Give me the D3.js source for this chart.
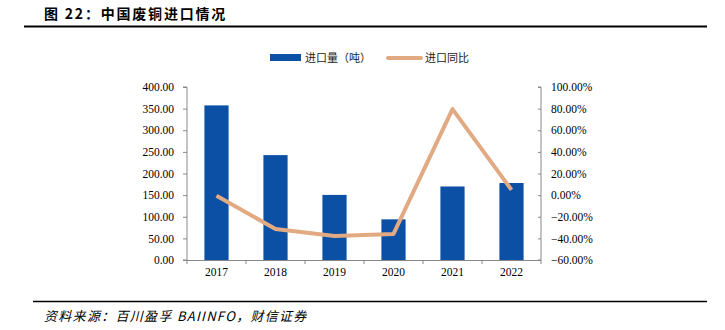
<!DOCTYPE html>
<html><head><meta charset="utf-8">
<script src="https://cdn.jsdelivr.net/npm/d3@7"></script>
<style>
body{margin:0;background:#fff;}
svg{display:block;}
</style></head>
<body>
<svg id="c" width="725" height="330"></svg>
<script>
const categories = ["2017","2018","2019","2020","2021","2022"];
const volume = [357.5, 242.5, 150.5, 94, 170, 178];
const yoy = [-0.5, -31.3, -37.8, -35.9, 79.5, 4.8];
const leftTicks = [0,50,100,150,200,250,300,350,400];
const rightTicks = [-60,-40,-20,0,20,40,60,80,100];
const seriesNames = ["进口量（吨）","进口同比"];
const titleText = "图 22：中国废铜进口情况";
const sourceText = "资料来源：百川盈孚 BAIINFO，财信证券";

const svg = d3.select("#c");
const barColor = "#0B50A5", lineColor = "#E2AA83";
const serif = "'Liberation Serif','Times New Roman',serif";
const cjk = "'Noto Sans CJK SC',sans-serif";

const L = 187, R = 541, T = 87, B = 260;

// title & rules
svg.append("text").attr("x",44).attr("y",19).text(titleText)
  .attr("font-family",cjk).attr("font-weight","bold").attr("font-size",14)
  .attr("letter-spacing",1.8).attr("fill","#000");
svg.append("line").attr("x1",24).attr("x2",707).attr("y1",26.5).attr("y2",26.5).attr("stroke","#000").attr("stroke-width",2);
svg.append("line").attr("x1",33).attr("x2",707).attr("y1",301.5).attr("y2",301.5).attr("stroke","#000").attr("stroke-width",1.5);
svg.append("text").attr("x",44).attr("y",321).text(sourceText)
  .attr("font-family",cjk).attr("font-style","italic").attr("font-size",13)
  .attr("letter-spacing",1.3).attr("fill","#000");

const x = d3.scaleBand().domain(categories).range([L,R]).paddingInner(0.59).paddingOuter(0.295);
const xb = d3.scaleBand().domain(categories).range([L,R]);
const yL = d3.scaleLinear().domain([0,400]).range([B,T]);
const yR = d3.scaleLinear().domain([-60,100]).range([B,T]);

// bars
svg.append("g").selectAll("rect").data(volume).join("rect")
  .attr("x",(d,i)=>x(categories[i])).attr("width",x.bandwidth())
  .attr("y",d=>yL(d)).attr("height",d=>B-yL(d)).attr("fill",barColor);

// line
const line = d3.line().x((d,i)=>xb(categories[i])+xb.bandwidth()/2).y(d=>yR(d));
svg.append("path").datum(yoy).attr("d",line).attr("fill","none")
  .attr("stroke",lineColor).attr("stroke-width",4).attr("stroke-linejoin","round");

// axes
const axisColor = "#888";
const gl = svg.append("g").attr("transform",`translate(${L},0)`)
  .call(d3.axisLeft(yL).tickValues(leftTicks).tickFormat(d3.format(".2f")).tickSize(4).tickPadding(9));
const gr = svg.append("g").attr("transform",`translate(${R},0)`)
  .call(d3.axisRight(yR).tickValues(rightTicks).tickFormat(d=>d3.format(".2f")(d)+"%").tickSize(-3).tickPadding(10));
const gx = svg.append("g").attr("transform",`translate(0,${B})`)
  .call(d3.axisBottom(xb).tickSize(0).tickPadding(8));
// boundary ticks on x axis
svg.append("g").selectAll("line").data(d3.range(categories.length+1)).join("line")
  .attr("x1",i=>L+i*xb.step()).attr("x2",i=>L+i*xb.step())
  .attr("y1",B).attr("y2",B+4).attr("stroke",axisColor);

[gl,gr,gx].forEach(g=>{
  g.selectAll(".domain").attr("stroke",axisColor);
  g.selectAll(".tick line").attr("stroke",axisColor);
  g.selectAll("text").attr("font-family",serif).attr("font-size",11.5).attr("fill","#000");
});
gl.select(".domain").attr("d",`M-4,${B}H0V${T}H-4`);
gr.select(".domain").attr("d",`M-3,${B}H0V${T}H-3`);
gx.select(".domain").attr("d",`M${L},0.5H${R}`);

// legend
const lg = svg.append("g");
lg.append("rect").attr("x",270).attr("y",54).attr("width",31).attr("height",7).attr("fill",barColor);
lg.append("text").attr("x",305).attr("y",62).text(seriesNames[0]).attr("font-family",cjk).attr("font-size",11).attr("fill","#222");
lg.append("line").attr("x1",388).attr("x2",421).attr("y1",58).attr("y2",58).attr("stroke",lineColor).attr("stroke-width",4).attr("stroke-linecap","round");
lg.append("text").attr("x",425).attr("y",62).text(seriesNames[1]).attr("font-family",cjk).attr("font-size",11).attr("fill","#222");
</script>
</body></html>
